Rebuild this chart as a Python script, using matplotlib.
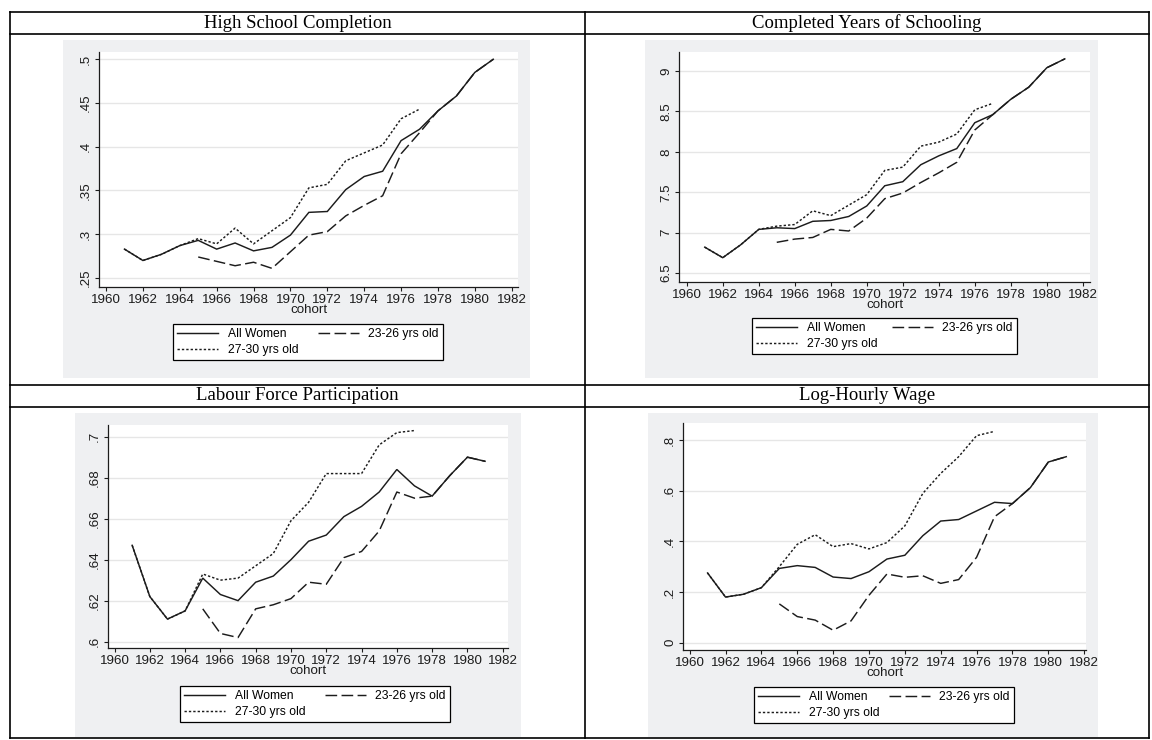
import matplotlib
matplotlib.use("Agg")
import matplotlib.pyplot as plt
from matplotlib.patches import Rectangle
from matplotlib.lines import Line2D

# ---------------- data ----------------
years_all = list(range(1961, 1982))
years_2326 = list(range(1965, 1982))
years_2730 = list(range(1961, 1978))

titles = ["High School Completion", "Completed Years of Schooling",
          "Labour Force Participation", "Log-Hourly Wage"]
series_labels = ["All Women", "23-26 yrs old", "27-30 yrs old"]
xticks = list(range(1960, 1983, 2))

hs_all = [.283, .270, .277, .287, .293, .283, .290, .281, .285, .299, .325, .326, .351, .366, .372, .407, .420, .441, .458, .485, .500]
hs_2326 = [.274, .269, .264, .268, .261, .280, .299, .303, .321, .333, .344, .392, .416, .441, .458, .485, .500]
hs_2730 = [.283, .270, .277, .287, .295, .289, .307, .289, .304, .319, .353, .357, .384, .393, .402, .432, .443]
hs_ticks = [.25, .3, .35, .4, .45, .5]
hs_ticklabels = [".25", ".3", ".35", ".4", ".45", ".5"]

yrs_all = [6.82, 6.69, 6.85, 7.04, 7.06, 7.05, 7.14, 7.15, 7.20, 7.33, 7.58, 7.63, 7.84, 7.95, 8.04, 8.36, 8.46, 8.65, 8.80, 9.04, 9.15]
yrs_2326 = [6.88, 6.92, 6.94, 7.04, 7.02, 7.18, 7.42, 7.49, 7.62, 7.74, 7.87, 8.27, 8.46, 8.65, 8.80, 9.04, 9.15]
yrs_2730 = [6.82, 6.69, 6.85, 7.04, 7.08, 7.10, 7.27, 7.21, 7.34, 7.47, 7.77, 7.81, 8.07, 8.12, 8.22, 8.52, 8.60]
yrs_ticks = [6.5, 7, 7.5, 8, 8.5, 9]
yrs_ticklabels = ["6.5", "7", "7.5", "8", "8.5", "9"]

lfp_all = [.647, .622, .611, .615, .631, .623, .620, .629, .632, .640, .649, .652, .661, .666, .673, .684, .676, .671, .681, .690, .688]
lfp_2326 = [.616, .604, .602, .616, .618, .621, .629, .628, .641, .644, .654, .673, .670, .671, .681, .690, .688]
lfp_2730 = [.647, .622, .611, .615, .633, .630, .631, .637, .643, .659, .668, .682, .682, .682, .696, .702, .703]
lfp_ticks = [.6, .62, .64, .66, .68, .7]
lfp_ticklabels = [".6", ".62", ".64", ".66", ".68", ".7"]

wage_all = [.275, .180, .191, .217, .293, .304, .297, .259, .253, .280, .330, .345, .422, .480, .486, .520, .554, .549, .612, .713, .734]
wage_2326 = [.153, .103, .089, .049, .086, .187, .271, .258, .264, .234, .249, .337, .497, .549, .612, .713, .734]
wage_2730 = [.275, .180, .191, .217, .300, .388, .426, .379, .391, .370, .395, .461, .589, .668, .734, .817, .834]
wage_ticks = [0, .2, .4, .6, .8]
wage_ticklabels = ["0", ".2", ".4", ".6", ".8"]

# ---------------- layout (pixels) ----------------
W, H = 1152, 740
fig = plt.figure(figsize=(W / 100, H / 100), dpi=100)
fig.patch.set_facecolor("white")

SANS = ["Liberation Sans", "DejaVu Sans"]
SERIF = ["Liberation Serif", "DejaVu Serif"]
INK = "#1c1c1c"
BG = "#eff0f2"


def fy(y):
    return 1 - y / H


def frect(x0, y0, x1, y1):
    return [x0 / W, 1 - y1 / H, (x1 - x0) / W, (y1 - y0) / H]


panels = [
    dict(title=titles[0], cell=(10, 585), title_y=23,
         bg=(63, 40, 530, 378), ax=(99, 52, 518, 287),
         xlim=(1959.62, 1982.34), ylim=(.2397, .5083),
         data=(hs_all, hs_2326, hs_2730), ticks=hs_ticks, tl=hs_ticklabels,
         leg=(173, 324, 443)),
    dict(title=titles[1], cell=(585, 1149), title_y=23,
         bg=(645, 40, 1098, 378), ax=(679, 52, 1090, 282),
         xlim=(1959.57, 1982.4), ylim=(6.389, 9.235),
         data=(yrs_all, yrs_2326, yrs_2730), ticks=yrs_ticks, tl=yrs_ticklabels,
         leg=(752, 318, 1017)),
    dict(title=titles[2], cell=(10, 585), title_y=396,
         bg=(75, 413, 521, 737), ax=(108, 425, 508, 648),
         xlim=(1959.63, 1982.3), ylim=(.5969, .7057),
         data=(lfp_all, lfp_2326, lfp_2730), ticks=lfp_ticks, tl=lfp_ticklabels,
         leg=(180, 686, 450)),
    dict(title=titles[3], cell=(585, 1149), title_y=396,
         bg=(648, 413, 1098, 737), ax=(683, 423, 1086, 650),
         xlim=(1959.63, 1982.1), ylim=(-.029, .867),
         data=(wage_all, wage_2326, wage_2730), ticks=wage_ticks, tl=wage_ticklabels,
         leg=(754, 687, 1014)),
]

for p in panels:
    # gray graph region
    x0, y0, x1, y1 = p["bg"]
    fig.add_artist(Rectangle((x0 / W, fy(y1)), (x1 - x0) / W, (y1 - y0) / H,
                             transform=fig.transFigure, facecolor=BG,
                             edgecolor="none", zorder=0))
    # title
    c0, c1 = p["cell"]
    fig.text((c0 + c1) / 2 / W, fy(p["title_y"]), p["title"], ha="center",
             va="center", fontsize=13.5, family=SERIF, color="black")

    ax = fig.add_axes(frect(*p["ax"]))
    ax.set_facecolor("white")
    all_v, v2326, v2730 = p["data"]
    l1, = ax.plot(years_all, all_v, color=INK, lw=1.05, solid_joinstyle="miter")
    l2, = ax.plot(years_2326, v2326, color=INK, lw=1.05, dashes=(8, 3))
    l3, = ax.plot(years_2730, v2730, color=INK, lw=1.05, dashes=(1.6, 1.4))

    ax.set_xlim(*p["xlim"])
    ax.set_ylim(*p["ylim"])
    ax.set_xticks(xticks)
    ax.set_xticklabels([str(t) for t in xticks], fontsize=9.6, family=SANS)
    ax.set_yticks(p["ticks"])
    ax.set_yticklabels(p["tl"], rotation=90, va="center", fontsize=9.6, family=SANS)
    ax.tick_params(axis="both", direction="out", length=3, width=0.8,
                   color=INK, pad=2, labelcolor=INK)
    ax.grid(axis="y", color="#e6e6e6", lw=1.0)
    ax.set_axisbelow(True)
    for s in ("top", "right"):
        ax.spines[s].set_visible(False)
    for s in ("left", "bottom"):
        ax.spines[s].set_color(INK)
        ax.spines[s].set_linewidth(0.9)
    ax.set_xlabel("cohort", fontsize=9.6, family=SANS, labelpad=-1.5, color=INK)

    lx0, ly0, lx1 = p["leg"]
    leg = fig.legend([l1, l3, l2], [series_labels[0], series_labels[2], series_labels[1]],
                     loc="upper left",
                     bbox_to_anchor=(lx0 / W, fy(ly0 + 38), (lx1 - lx0) / W, 38 / H),
                     mode="expand", ncol=2,
                     prop={"family": SANS, "size": 8.7},
                     frameon=True, fancybox=False, shadow=False,
                     edgecolor="black", framealpha=1, facecolor="white",
                     borderaxespad=0, borderpad=0.35, handlelength=3.4,
                     handletextpad=0.8, labelspacing=0.3, columnspacing=2.0)
    leg.get_frame().set_linewidth(0.9)

# ---------------- table rules ----------------
LX0, LX1 = 10, 1149
for y in (12, 34, 385, 407, 738):
    fig.add_artist(Line2D([LX0 / W, LX1 / W], [fy(y), fy(y)],
                          transform=fig.transFigure, color="black", lw=1.2))
for x in (LX0, 585, LX1):
    fig.add_artist(Line2D([x / W, x / W], [fy(12), fy(738)],
                          transform=fig.transFigure, color="black", lw=1.2))

fig.savefig("out.png", dpi=100)
